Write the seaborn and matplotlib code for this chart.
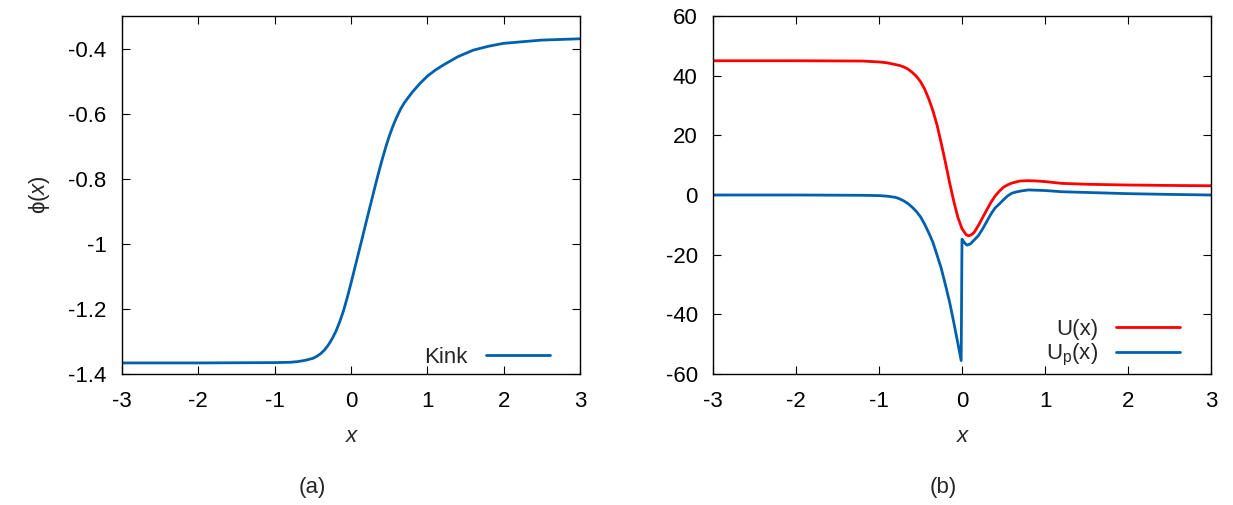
import pandas as pd
import seaborn as sns
import matplotlib.pyplot as plt
from matplotlib.ticker import FormatStrFormatter

# Kink profile phi(x)
kink_x = [-3.0, -2.0, -1.0, -0.8, -0.7, -0.6, -0.5, -0.45, -0.4, -0.35, -0.3, -0.25, -0.2,
          -0.15, -0.1, -0.05, 0.0, 0.05, 0.1, 0.15, 0.2, 0.25, 0.3, 0.35, 0.4, 0.45, 0.5,
          0.55, 0.6, 0.65, 0.7, 0.8, 0.9, 1.0, 1.1, 1.2, 1.4, 1.6, 1.8, 2.0, 2.5, 3.0]
kink_phi = [-1.366, -1.366, -1.365, -1.364, -1.362, -1.358, -1.352, -1.346, -1.338, -1.327,
            -1.312, -1.293, -1.270, -1.241, -1.207, -1.166, -1.121, -1.074, -1.027, -0.980,
            -0.932, -0.885, -0.838, -0.792, -0.748, -0.707, -0.670, -0.638, -0.610, -0.586,
            -0.566, -0.535, -0.508, -0.485, -0.467, -0.452, -0.425, -0.405, -0.393, -0.384,
            -0.374, -0.370]

# Potentials for panel (b)
u_x = [-3.0, -2.0, -1.2, -1.0, -0.9, -0.8, -0.75, -0.7, -0.65, -0.6, -0.55, -0.5, -0.45,
       -0.4, -0.35, -0.3, -0.25, -0.2, -0.15, -0.1, -0.05, 0.0, 0.05, 0.08, 0.12, 0.15, 0.2,
       0.25, 0.3, 0.35, 0.4, 0.45, 0.5, 0.55, 0.6, 0.7, 0.8, 0.9, 1.0, 1.2, 1.5, 2.0, 2.5, 3.0]
u_val = [45.0, 45.0, 44.9, 44.6, 44.3, 43.7, 43.4, 42.9, 42.2, 41.1, 39.8, 38.0, 35.5,
         32.2, 28.2, 23.4, 17.3, 11.0, 4.2, -2.0, -7.5, -11.3, -13.3, -13.7, -13.2, -12.4,
         -10.1, -7.5, -4.9, -2.4, -0.3, 1.3, 2.6, 3.4, 4.0, 4.7, 4.8, 4.7, 4.5, 3.9, 3.6,
         3.35, 3.2, 3.1]

up_x = [-3.0, -2.0, -1.2, -1.0, -0.9, -0.8, -0.75, -0.7, -0.65, -0.6, -0.55, -0.5, -0.45,
        -0.4, -0.35, -0.3, -0.25, -0.2, -0.15, -0.1, -0.05, -0.01, 0.0, 0.03, 0.06, 0.1, 0.15,
        0.2, 0.25, 0.3, 0.35, 0.4, 0.45, 0.5, 0.55, 0.6, 0.65, 0.7, 0.8, 0.9, 1.0, 1.2, 1.5,
        2.0, 2.5, 3.0]
up_val = [0.0, 0.0, -0.1, -0.2, -0.4, -0.8, -1.3, -2.0, -2.9, -4.1, -5.5, -7.3, -9.8,
          -12.7, -15.9, -20.2, -24.6, -30.1, -35.8, -42.6, -49.7, -55.5, -14.8, -16.0, -16.8,
          -16.4, -15.0, -13.5, -11.3, -8.8, -6.3, -4.3, -3.0, -1.6, -0.3, 0.6, 1.0, 1.3, 1.7,
          1.6, 1.5, 1.1, 0.85, 0.45, 0.2, 0.0]

kink_df = pd.DataFrame({"x": kink_x, "phi": kink_phi})
u_df = pd.DataFrame({"x": u_x, "val": u_val})
up_df = pd.DataFrame({"x": up_x, "val": up_val})

sns.set_style("ticks")
plt.rcParams["font.family"] = ["Liberation Sans", "DejaVu Sans"]
plt.rcParams["axes.unicode_minus"] = False
plt.rcParams["mathtext.fontset"] = "custom"
plt.rcParams["mathtext.rm"] = "Liberation Sans"
plt.rcParams["mathtext.it"] = "Liberation Sans:italic"

blue = "#0060ad"
red = "#ff0000"
fs = 16

fig = plt.figure(figsize=(12.33, 5.05), dpi=100)
ax1 = fig.add_axes([122 / 1233, 131 / 505, 458 / 1233, 358 / 505])
ax2 = fig.add_axes([713 / 1233, 131 / 505, 498 / 1233, 358 / 505])

sns.lineplot(data=kink_df, x="x", y="phi", ax=ax1, color=blue, lw=2.0,
             estimator=None, sort=False, label="Kink")
sns.lineplot(data=u_df, x="x", y="val", ax=ax2, color=red, lw=2.0,
             estimator=None, sort=False, label="U(x)")
sns.lineplot(data=up_df, x="x", y="val", ax=ax2, color=blue, lw=2.0,
             estimator=None, sort=False, label=r"U$_{\rm p}$(x)")

ax1.set_xlim(-3, 3)
ax1.set_ylim(-1.4, -0.3)
ax1.set_yticks([-1.4, -1.2, -1.0, -0.8, -0.6, -0.4])
ax1.yaxis.set_major_formatter(FormatStrFormatter("%g"))
ax1.set_ylabel("ϕ($x$)", fontsize=fs, labelpad=12)

ax2.set_xlim(-3, 3)
ax2.set_ylim(-60, 60)
ax2.set_yticks([-60, -40, -20, 0, 20, 40, 60])
ax2.set_ylabel("")

for ax, anchor in ((ax1, (0.9345, 0.017)), (ax2, (0.938, 0.017))):
    ax.set_xticks([-3, -2, -1, 0, 1, 2, 3])
    ax.xaxis.set_major_formatter(FormatStrFormatter("%g"))
    ax.tick_params(direction="in", length=6, width=0.8, top=True, right=True,
                   labelsize=fs, colors="black")
    ax.tick_params(axis="y", pad=11)
    ax.tick_params(axis="x", pad=12)
    for s in ax.spines.values():
        s.set_linewidth(1.0)
        s.set_color("black")
    ax.set_xlabel("x", fontsize=fs, style="italic", labelpad=10)
    ax.legend(loc="lower right", bbox_to_anchor=anchor, frameon=False, markerfirst=False,
              fontsize=fs, handlelength=2.9, handletextpad=0.8, borderaxespad=0,
              borderpad=0, labelspacing=0.1)

fig.text(312 / 1233, 1 - 487 / 505, "(a)", fontsize=fs, ha="center", va="center")
fig.text(943 / 1233, 1 - 487 / 505, "(b)", fontsize=fs, ha="center", va="center")

plt.savefig("out.png", dpi=100)
